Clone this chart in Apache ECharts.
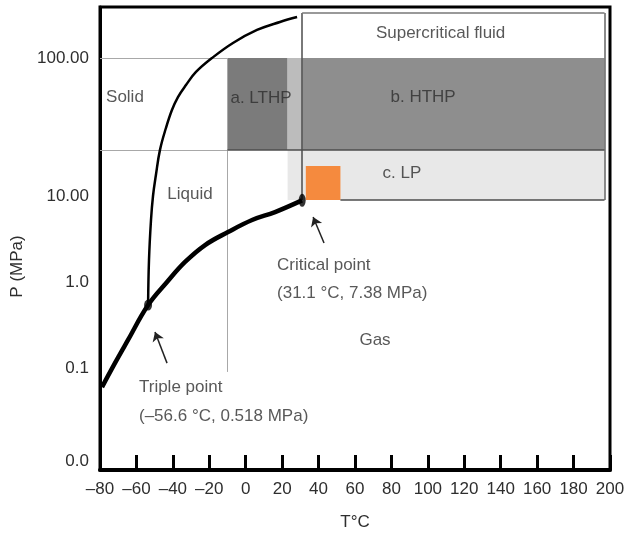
<!DOCTYPE html>
<html>
<head>
<meta charset="utf-8">
<script src="https://cdn.jsdelivr.net/npm/echarts@6/dist/echarts.min.js"></script>
<style>
  html, body { margin: 0; padding: 0; background: #fff; }
  #chart { width: 625px; height: 533px; }
</style>
</head>
<body>
<div id="chart"></div>
<script>
// ---------------- DATA (T in °C, P in MPa) ----------------
// Vapour-pressure / sublimation curve
const vapT = [-78.9, -71.8, -64.6, -53.6, -43.2, -33.3, -22.3, -9.7, 3.5, 16.1, 30.9];
const vapP = [0.060, 0.114, 0.212, 0.54, 1.0, 1.71, 2.69, 3.81, 5.26, 6.51, 8.9];
// Melting curve
const meltT = [-53.6, -53.1, -52.0, -50.9, -49.3, -47.1, -43.8, -40.5, -37.2, -32.8, -27.3, -18.5, -7.0, 6.2, 18.8, 28.2];
const meltP = [0.54, 1.80, 5.26, 10.0, 14.2, 21.5, 31.1, 42.0, 52.1, 63.7, 79.2, 100, 128.5, 159.6, 182.4, 198];
// Special points
const triplePoint = [-53.6, 0.54];
const criticalPoint = [31.0, 8.9];
// Operating regions [Tmin, Tmax, Pmin, Pmax]
const regionNames = ['Supercritical', 'HTHP', 'LTHP', 'Strip', 'LP', 'Orange'];
const regionT = [[31, 197], [31, 197], [-10, 23], [23, 31], [23, 197], [33, 52]];
const regionP = [[100, 212], [21.5, 100], [21.5, 100], [21.5, 100], [9, 21.5], [9, 16.5]];
// Axis ticks
const xMin = -80, xMax = 200, xStep = 20;
const yTickP = [0, 0.1, 1, 10, 100];
const yTickText = ['0.0', '0.1', '1.0', '10.00', '100.00'];
// Text annotations [text, T, P]
const noteText = ['Supercritical fluid', 'b. HTHP', 'c. LP', 'a. LTHP', 'Solid', 'Liquid', 'Gas'];
const noteT = [107, 97.4, 85.8, 8.4, -66.3, -30.6, 71];
const noteP = [152, 52.1, 14.7, 51.3, 52, 10.3, 0.212];
const leftNoteText = ['Critical point', '(31.1 °C, 7.38 MPa)', 'Triple point', '(\u201356.6 °C, 0.518 MPa)'];
const leftNoteT = [17.2, 17.2, -58.6, -58.6];
const leftNoteP = [1.58, 0.745, 0.060, 0.0277];
// Arrows [tailT, tailP, headT, headP]
const arrowCrit = [43.0, 2.84, 37.0, 5.7];
const arrowTriple = [-43.2, 0.114, -49.8, 0.262];

// ---------------- schematic pressure scale ----------------
// The diagram's pressure axis is a piecewise-log schematic scale.
const scaleP = [0.1, 1, 10, 100];
const scaleH = [102, 188, 274, 412];
const ZERO_H = 9;
const Y_MAX = 463;
function lvl(p) {
  if (p <= 0) return ZERO_H;
  const lp = Math.log10(p);
  const L = scaleP.map(Math.log10);
  let i = 0;
  if (lp >= L[L.length - 1]) i = L.length - 2;
  else if (lp > L[0]) { while (lp > L[i + 1]) i++; }
  return scaleH[i] + (lp - L[i]) / (L[i + 1] - L[i]) * (scaleH[i + 1] - scaleH[i]);
}
const pt = (t, p) => [t, lvl(p)];

const FONT = "'Liberation Sans', Arial, Helvetica, sans-serif";
const TXT = '#2e2e2e';

const regionColors = {
  Supercritical: 'rgba(255,255,255,0)',
  HTHP: '#8e8e8e',
  LTHP: '#7b7b7b',
  Strip: '#bcbcbc',
  LP: '#e8e8e8',
  Orange: '#f58a3e'
};

const areas = regionNames.map((n, i) => [
  { xAxis: regionT[i][0], yAxis: lvl(regionP[i][0]), itemStyle: { color: regionColors[n] } },
  { xAxis: regionT[i][1], yAxis: lvl(regionP[i][1]) }
]);

function seg(t1, p1, t2, p2, color, width) {
  return [
    { coord: pt(t1, p1), lineStyle: { color: color, width: width, type: 'solid' } },
    { coord: pt(t2, p2) }
  ];
}
const GRAY = '#a8a8a8', DARK = '#4d4d4d';
const sc = regionT[0], scP = regionP[0];
const frameLines = [
  // light guide lines
  seg(xMin, 100, -10, 100, GRAY, 1),
  seg(xMin, 21.5, -10, 21.5, GRAY, 1),
  seg(-10, 0.09, -10, 100, GRAY, 1),
  // outer box of supercritical region
  seg(sc[0], regionP[4][0], sc[0], scP[1], DARK, 1.5),
  seg(sc[1], regionP[4][0], sc[1], scP[1], '#666', 1.5),
  seg(sc[0], scP[1], sc[1], scP[1], '#777', 1.5),
  seg(regionT[5][1], regionP[4][0], sc[1], regionP[4][0], DARK, 1.5),
  seg(-10, 21.5, sc[1], 21.5, DARK, 1.5)
];

function arrow(a) {
  return [
    { coord: pt(a[0], a[1]) },
    { coord: pt(a[2], a[3]) }
  ];
}

const chart = echarts.init(document.getElementById('chart'), null, { renderer: 'canvas' });
chart.setOption({
  animation: false,
  backgroundColor: '#fff',
  textStyle: { fontFamily: FONT },
  grid: {
    left: 100, right: 15, top: 7, bottom: 63, outerBoundsMode: 'none', containLabel: false,
    show: true, borderColor: '#000', borderWidth: 3, backgroundColor: 'transparent'
  },
  xAxis: {
    type: 'value', min: xMin, max: xMax, interval: xStep,
    name: 'T°C', nameLocation: 'middle', nameGap: 44,
    nameTextStyle: { color: TXT, fontSize: 17, fontFamily: FONT },
    axisLine: { show: true, onZero: false, lineStyle: { color: '#000', width: 4 } },
    axisTick: { show: true, inside: true, length: 15, lineStyle: { color: '#000', width: 3 } },
    axisLabel: {
      color: TXT, fontSize: 17, fontFamily: FONT, margin: 11,
      formatter: v => (v < 0 ? '\u2013' + Math.abs(v) : String(v))
    },
    splitLine: { show: false }
  },
  yAxis: {
    type: 'value', min: 0, max: Y_MAX,
    name: 'P (MPa)', nameLocation: 'middle', nameGap: 62,
    nameTextStyle: { color: TXT, fontSize: 17, fontFamily: FONT, padding: [0, 56, 0, 0] },
    axisLine: { show: true, onZero: false, lineStyle: { color: '#000', width: 3 } },
    axisTick: { show: false },
    axisLabel: {
      color: TXT, fontSize: 17, fontFamily: FONT, margin: 11,
      customValues: yTickP.map(lvl),
      formatter: v => {
        let best = 0, d = Infinity;
        yTickP.forEach((p, i) => { const dd = Math.abs(lvl(p) - v); if (dd < d) { d = dd; best = i; } });
        return yTickText[best];
      }
    },
    splitLine: { show: false }
  },
  series: [
    {
      name: 'regions', type: 'line', data: [], z: 1, silent: true,
      markArea: { silent: true, data: areas, label: { show: false } }
    },
    {
      name: 'frames', type: 'line', data: [], z: 2, silent: true,
      markLine: { silent: true, symbol: ['none', 'none'], label: { show: false }, data: frameLines }
    },
    {
      name: 'Vapour curve', type: 'line', z: 5, smooth: 0.4, symbol: 'none',
      lineStyle: { color: '#000', width: 4.5 },
      data: vapT.map((t, i) => pt(t, vapP[i]))
    },
    {
      name: 'Melting curve', type: 'line', z: 5, smooth: 0.4, symbol: 'none',
      lineStyle: { color: '#000', width: 2.5 },
      data: meltT.map((t, i) => pt(t, meltP[i]))
    },
    {
      name: 'points', type: 'scatter', z: 6, symbol: 'circle',
      itemStyle: { color: '#000' },
      data: [
        { value: pt(triplePoint[0], triplePoint[1]), symbolSize: [8, 11] },
        { value: pt(criticalPoint[0], criticalPoint[1]), symbolSize: [7, 13] }
      ]
    },
    {
      name: 'arrows', type: 'line', data: [], z: 6, silent: true,
      markLine: {
        silent: true, symbol: ['none', 'arrow'], symbolSize: 9,
        lineStyle: { color: '#222', width: 1.5, type: 'solid' },
        label: { show: false },
        data: [arrow(arrowCrit), arrow(arrowTriple)]
      }
    },
    {
      name: 'notes', type: 'scatter', z: 7, symbolSize: 0, silent: true,
      label: { show: true, position: 'inside', color: TXT, fontSize: 17, fontFamily: FONT, formatter: p => p.name },
      data: noteText.map((s, i) => ({ name: s, value: pt(noteT[i], noteP[i]) }))
    },
    {
      name: 'leftNotes', type: 'scatter', z: 7, symbolSize: 0, silent: true,
      label: { show: true, position: 'right', distance: 0, color: TXT, fontSize: 17, fontFamily: FONT, formatter: p => p.name },
      data: leftNoteText.map((s, i) => ({ name: s, value: pt(leftNoteT[i], leftNoteP[i]) }))
    }
  ]
});
</script>
</body>
</html>
